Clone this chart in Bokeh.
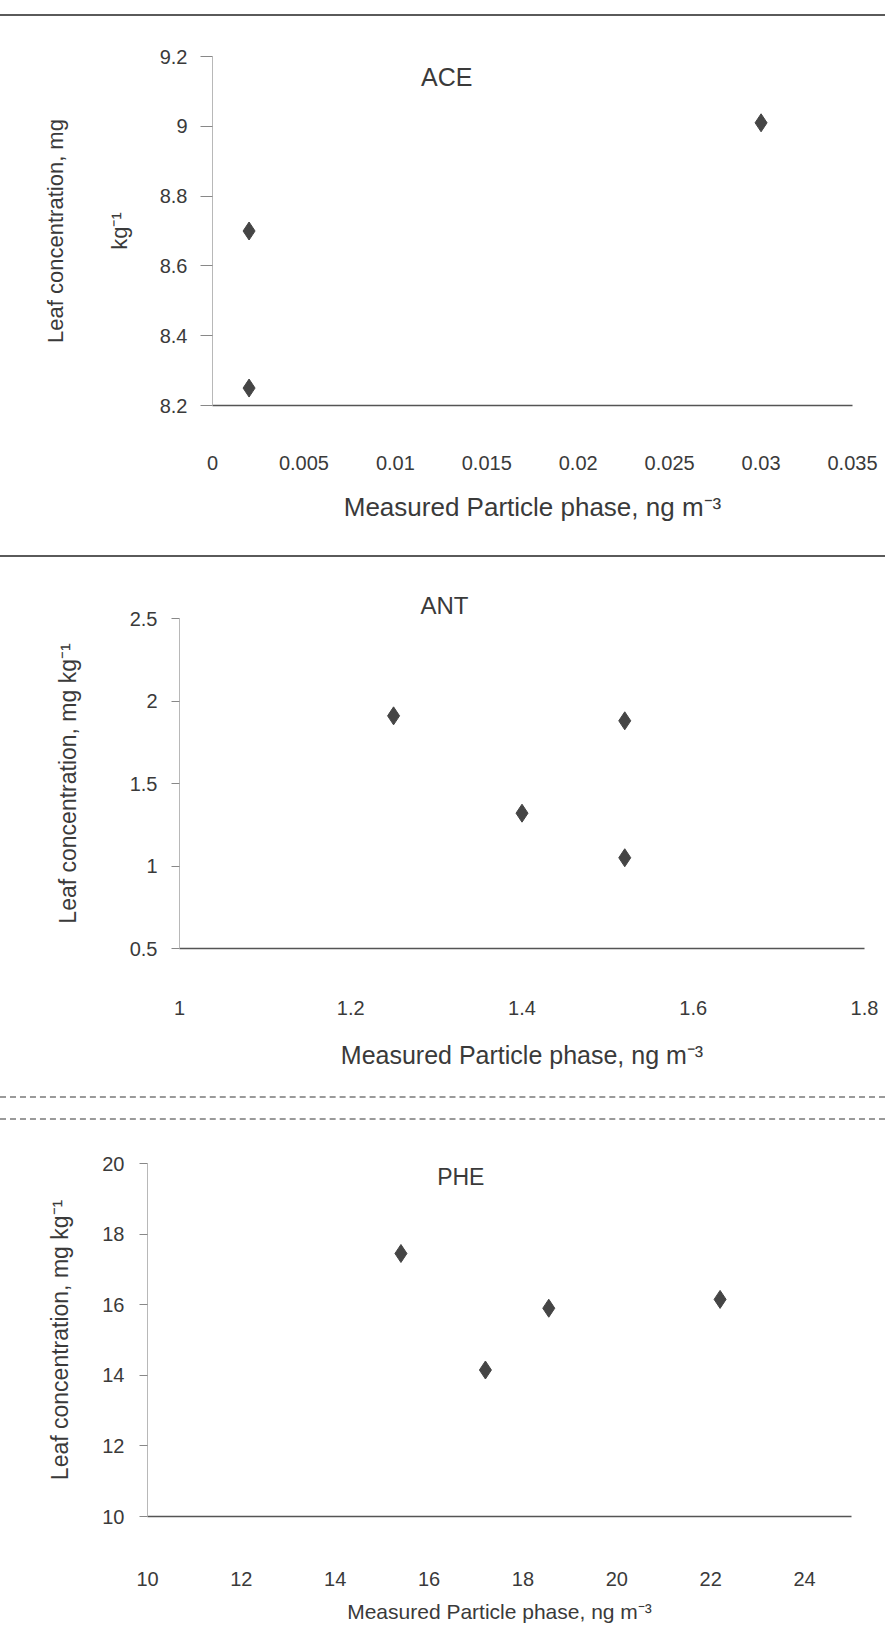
from bokeh.plotting import figure
from bokeh.models import Label, LinearAxis, FixedTicker, NumeralTickFormatter, Range1d, Div
from bokeh.layouts import column
from bokeh.embed import file_html
from bokeh.resources import INLINE

# ---------------- data ----------------
ace_x = [0.002, 0.002, 0.030]
ace_y = [8.25, 8.70, 9.01]
ace_xticks = [0, 0.005, 0.01, 0.015, 0.02, 0.025, 0.03, 0.035]
ace_yticks = [8.2, 8.4, 8.6, 8.8, 9.0, 9.2]

ant_x = [1.25, 1.52, 1.40, 1.52]
ant_y = [1.91, 1.88, 1.32, 1.05]
ant_xticks = [1.0, 1.2, 1.4, 1.6, 1.8]
ant_yticks = [0.5, 1.0, 1.5, 2.0, 2.5]

phe_x = [15.4, 17.2, 18.55, 22.2]
phe_y = [17.45, 14.15, 15.9, 16.15]
phe_xticks = [10, 12, 14, 16, 18, 20, 22, 24]
phe_yticks = [10, 12, 14, 16, 18, 20]

XLABEL = "Measured Particle phase, ng m\u207b\u00b3"
FONT = "Liberation Sans"
TICK_COLOR = "#3a3a3a"
MARK_COLOR = "#454545"


def make_panel(height, left, right, top, bottom, xr, yr, xticks, yticks,
               xs, ys, ylabel, xlabel_size, ylabel_size,
               x_std, xl_std, y_tick_out, y_std, yl_std):
    p = figure(width=885, height=height, output_backend="svg",
               toolbar_location=None,
               x_range=Range1d(*xr), y_range=Range1d(*yr),
               min_border_left=left, min_border_right=right,
               min_border_top=top, min_border_bottom=bottom)
    try:
        p.frame_align = False
    except Exception:
        pass
    p.outline_line_color = None
    p.grid.visible = False
    p.background_fill_color = "white"
    p.border_fill_color = "white"

    xa = p.xaxis[0]
    xa.ticker = FixedTicker(ticks=xticks)
    xa.formatter = NumeralTickFormatter(format="0.[000]")
    xa.axis_line_color = "#555555"
    xa.axis_line_width = 1.5
    xa.major_tick_out = 0
    xa.major_tick_in = 0
    xa.minor_tick_line_color = None
    xa.major_label_standoff = x_std
    xa.major_label_text_font = FONT
    xa.major_label_text_font_size = "20px"
    xa.major_label_text_color = TICK_COLOR
    xa.axis_label = XLABEL
    xa.axis_label_text_font = FONT
    xa.axis_label_text_font_style = "normal"
    xa.axis_label_text_font_size = xlabel_size
    xa.axis_label_text_color = TICK_COLOR
    xa.axis_label_standoff = xl_std

    ya = p.yaxis[0]
    ya.ticker = FixedTicker(ticks=yticks)
    ya.formatter = NumeralTickFormatter(format="0.[0]")
    ya.axis_line_color = "#b8b8b8"
    ya.axis_line_width = 1
    ya.major_tick_out = y_tick_out
    ya.major_tick_in = 0
    ya.major_tick_line_color = "#888888"
    ya.minor_tick_line_color = None
    ya.major_label_standoff = y_std
    ya.major_label_text_font = FONT
    ya.major_label_text_font_size = "20px"
    ya.major_label_text_color = TICK_COLOR
    ya.axis_label = ylabel
    ya.axis_label_text_font = FONT
    ya.axis_label_text_font_style = "normal"
    ya.axis_label_text_font_size = ylabel_size
    ya.axis_label_text_color = TICK_COLOR
    ya.axis_label_standoff = yl_std

    p.scatter(xs, ys, marker="diamond", size=18, color=MARK_COLOR)
    return p


def inner_label(p, xr, yr, frac, text, size):
    p.add_layout(Label(x=xr[0] + frac[0] * (xr[1] - xr[0]),
                       y=yr[0] + frac[1] * (yr[1] - yr[0]),
                       text=text, text_align="center",
                       text_baseline="middle", text_font=FONT,
                       text_font_size=size, text_color=TICK_COLOR))


# ACE panel
ace_xr, ace_yr = (0, 0.035), (8.2, 9.2)
p1 = make_panel(539, 212, 33, 40, 150, ace_xr, ace_yr,
                ace_xticks, ace_yticks, ace_x, ace_y,
                "kg\u207b\u00b9", "26px", "22px", 50, 19, 12, 13, 25)
inner_label(p1, ace_xr, ace_yr, (0.366, 0.94), "ACE", "25px")
outer = LinearAxis(ticker=FixedTicker(ticks=[]), axis_line_color=None,
                   major_tick_out=0, major_tick_in=0,
                   major_tick_line_color=None, minor_tick_line_color=None,
                   axis_label="Leaf concentration, mg",
                   axis_label_text_font=FONT,
                   axis_label_text_font_style="normal",
                   axis_label_text_font_size="22px",
                   axis_label_text_color=TICK_COLOR,
                   axis_label_standoff=36)
p1.add_layout(outer, "left")

# ANT panel
ant_xr, ant_yr = (1.0, 1.8), (0.5, 2.5)
p2 = make_panel(539, 179, 21, 61, 148, ant_xr, ant_yr,
                ant_xticks, ant_yticks, ant_x, ant_y,
                "Leaf concentration, mg kg\u207b\u00b9", "25px", "23px",
                52, 23, 8, 14, 46)
p2.title.text = "ANT"
p2.title.align = "left"
p2.title.offset = 241
p2.title.standoff = 0
p2.title.vertical_align = "bottom"
p2.title.text_font = FONT
p2.title.text_font_size = "24px"
p2.title.text_font_style = "normal"
p2.title.text_color = TICK_COLOR

# PHE panel
phe_xr, phe_yr = (10, 25), (10, 20)
p3 = make_panel(530, 147, 34, 43, 134, phe_xr, phe_yr,
                phe_xticks, phe_yticks, phe_x, phe_y,
                "Leaf concentration, mg kg\u207b\u00b9", "21px", "23px",
                55, 11, 8, 15, 26)
inner_label(p3, phe_xr, phe_yr, (0.445, 0.962), "PHE", "23px")

Z = (0, 0, 0, 0)
gap = Div(text="", width=885, height=14, margin=Z)
line1 = Div(text="", width=885, height=2, margin=Z,
            styles={"background-color": "#5a5a5a"})
line2 = Div(text="", width=885, height=2, margin=Z,
            styles={"background-color": "#5a5a5a"})
dashed = Div(text="", width=885, height=24, margin=Z,
             styles={"border-top": "2px dashed #9a9a9a",
                     "border-bottom": "2px dashed #9a9a9a",
                     "box-sizing": "border-box"})

layout = column(gap, line1, p1, line2, p2, dashed, p3, spacing=0)

open("out.html", "w").write(file_html(layout, INLINE))
